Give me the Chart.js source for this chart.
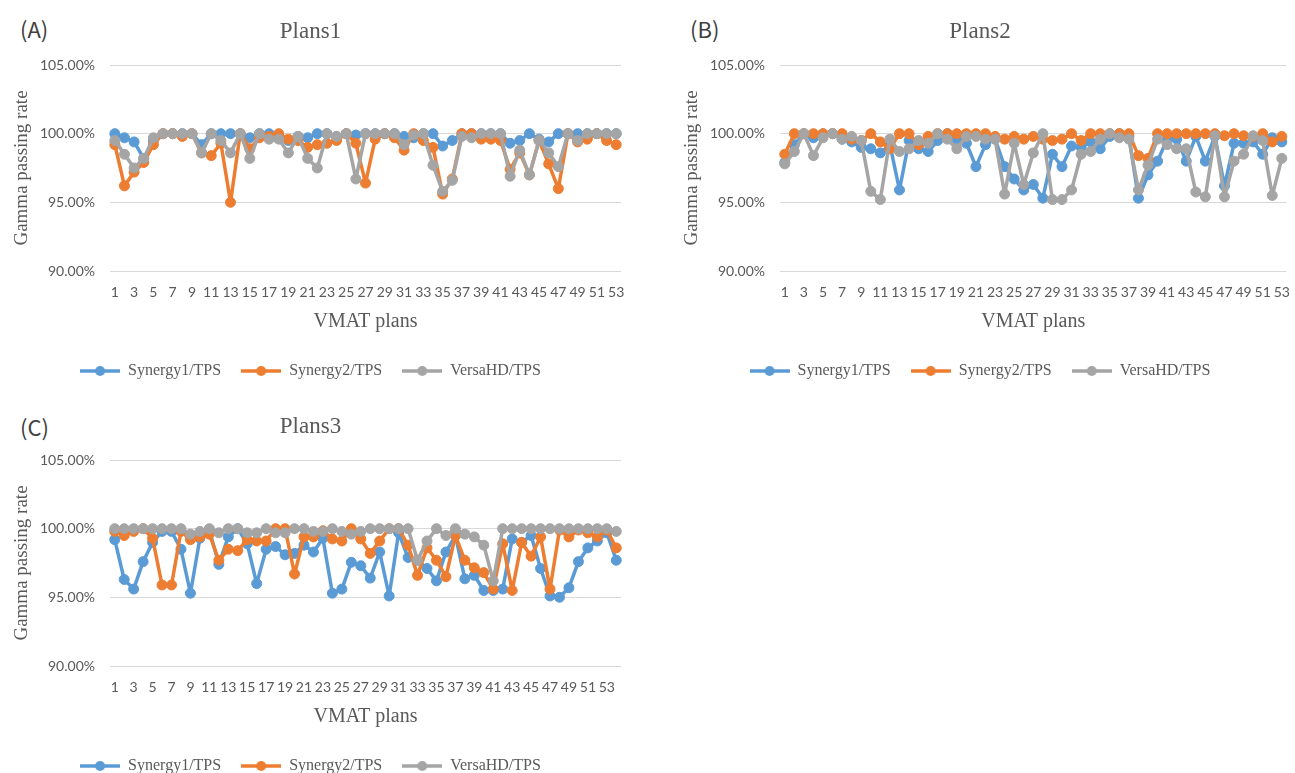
<!DOCTYPE html>
<html lang="en">
<head>
  <meta charset="UTF-8">
  <title>Gamma passing rate - VMAT plans</title>
  <script src="https://cdn.jsdelivr.net/npm/chart.js"></script>
  <style>
    html, body { margin: 0; padding: 0; background: #fff; overflow: hidden; }
    body { width: 1295px; height: 773px; position: relative; }
    canvas { position: absolute; }
    .tag {
      position: absolute;
      font-family: "Noto Sans CJK SC", "Noto Sans", sans-serif;
      font-size: 22px;
      line-height: 28px;
      color: #404040;
    }
  </style>
</head>
<body>
  <div class="tag" style="left:20px; top:14px;">(A)</div>
  <div class="tag" style="left:690px; top:14px;">(B)</div>
  <div class="tag" style="left:20px; top:412px;">(C)</div>

  <canvas id="chartA" width="640" height="390" style="left:0; top:0;"></canvas>
  <canvas id="chartB" width="625" height="390" style="left:670px; top:0;"></canvas>
  <canvas id="chartC" width="640" height="390" style="left:0; top:395px;"></canvas>

  <script>
    // series names
    const seriesNames = ['Synergy1/TPS', 'Synergy2/TPS', 'VersaHD/TPS'];

    // plans 1 (53 plans)
    const plans1Labels = Array.from({ length: 53 }, (_, i) => String(i + 1));
    const plans1Synergy1 = [100, 99.7, 99.4, 98.2, 99.5, 100, 100, 100, 100, 99.2,
      100, 100, 100, 100, 99.7, 100, 100, 99.8, 99.5, 99.8,
      99.7, 100, 100, 99.8, 100, 99.9, 100, 100, 100, 100,
      99.8, 99.7, 100, 100, 99.1, 99.5, 100, 100, 100, 100,
      100, 99.3, 99.5, 100, 99.6, 99.4, 100, 100, 100, 100,
      100, 100, 100];
    const plans1Synergy2 = [99.2, 96.2, 97.2, 97.9, 99.2, 100, 100, 99.8, 100, 98.6,
      98.4, 99.3, 95.0, 100, 98.9, 99.7, 99.8, 100, 99.6, 99.5,
      99.0, 99.2, 99.3, 99.5, 100, 99.3, 96.4, 99.6, 100, 99.7,
      98.8, 100, 99.5, 99.0, 95.6, 96.7, 100, 100, 99.6, 99.6,
      99.5, 97.4, 98.6, 97.0, 99.5, 97.8, 96.0, 100, 99.4, 99.6,
      100, 99.5, 99.2];
    const plans1VersaHD = [99.5, 98.5, 97.5, 98.2, 99.7, 100, 100, 100, 100, 98.6,
      100, 99.5, 98.6, 100, 98.2, 100, 99.6, 99.6, 98.6, 99.8,
      98.2, 97.5, 100, 99.8, 100, 96.7, 100, 100, 100, 100,
      99.2, 99.9, 100, 97.7, 95.8, 96.6, 99.8, 99.7, 100, 100,
      100, 96.9, 98.8, 97.0, 99.5, 98.6, 97.6, 100, 99.5, 100,
      100, 100, 100];

    // plans 2 (53 plans)
    const plans2Labels = Array.from({ length: 53 }, (_, i) => String(i + 1));
    const plans2Synergy1 = [97.9, 99.2, 100, 99.7, 100, 100, 99.6, 99.4, 99.0, 98.9,
      98.6, 99.2, 95.9, 99.5, 98.9, 98.7, 99.5, 100, 99.6, 99.3,
      97.6, 99.2, 99.6, 97.6, 96.7, 95.9, 96.3, 95.3, 98.5, 97.6,
      99.1, 99.0, 99.4, 98.9, 99.8, 100, 99.8, 95.3, 97.0, 98.0,
      99.6, 99.6, 98.0, 99.8, 98.0, 99.8, 96.2, 99.3, 99.3, 99.4,
      98.5, 99.7, 99.4];
    const plans2Synergy2 = [98.5, 100, 100, 100, 100, 100, 100, 99.6, 99.5, 100,
      99.4, 98.9, 100, 100, 99.2, 99.8, 100, 100, 100, 100,
      100, 100, 99.8, 99.6, 99.8, 99.6, 99.8, 99.6, 99.5, 99.6,
      100, 99.5, 100, 100, 100, 100, 100, 98.4, 98.2, 100,
      100, 100, 100, 100, 100, 100, 99.85, 100, 99.85, 99.8,
      100, 99.4, 99.8];
    const plans2VersaHD = [97.8, 98.7, 100, 98.4, 99.7, 100, 99.6, 99.8, 99.5, 95.8,
      95.2, 99.6, 98.7, 98.9, 99.5, 99.3, 100, 99.6, 98.9, 99.8,
      99.8, 99.6, 99.6, 95.6, 99.3, 96.3, 98.6, 100, 95.2, 95.2,
      95.9, 98.5, 98.7, 99.6, 100, 99.7, 99.6, 95.9, 97.7, 99.6,
      99.2, 98.9, 98.9, 95.75, 95.4, 99.85, 95.4, 98.0, 98.5, 99.85,
      99.5, 95.5, 98.2];

    // plans 3 (54 plans)
    const plans3Labels = Array.from({ length: 54 }, (_, i) => String(i + 1));
    const plans3Synergy1 = [99.2, 96.3, 95.6, 97.6, 99.0, 99.8, 99.8, 98.5, 95.3, 99.3,
      99.9, 97.4, 99.4, 100, 98.9, 96.0, 98.5, 98.7, 98.1, 98.2,
      98.8, 98.3, 99.3, 95.3, 95.6, 97.55, 97.3, 96.4, 98.3, 95.1,
      99.7, 97.9, 97.7, 97.1, 96.2, 98.3, 99.5, 96.35, 96.6, 95.5,
      95.5, 95.6, 99.25, 99.0, 99.5, 97.1, 95.1, 95.0, 95.7, 97.6,
      98.6, 99.1, 99.7, 97.7];
    const plans3Synergy2 = [99.8, 99.5, 99.8, 100, 99.3, 95.9, 95.9, 99.8, 99.2, 99.4,
      99.6, 97.7, 98.5, 98.4, 99.2, 99.1, 99.1, 100, 100, 96.7,
      99.4, 99.4, 99.85, 99.25, 99.1, 100, 99.25, 98.2, 99.1, 100,
      100, 98.8, 96.6, 98.6, 97.7, 96.5, 99.5, 97.7, 97.15, 96.8,
      95.6, 98.9, 95.5, 99.0, 98.0, 99.4, 95.6, 99.9, 99.4, 99.9,
      99.7, 99.4, 99.9, 98.6];
    const plans3VersaHD = [100, 100, 100, 100, 100, 100, 100, 100, 99.6, 99.8,
      100, 99.7, 100, 100, 99.7, 99.7, 100, 99.7, 99.7, 100,
      100, 99.8, 99.8, 100, 99.8, 99.6, 99.8, 100, 100, 100,
      100, 100, 97.7, 99.1, 100, 99.5, 100, 99.6, 99.4, 98.8,
      96.2, 100, 100, 100, 100, 100, 100, 100, 100, 100,
      100, 100, 100, 99.8];

    const yTicks = [90, 95, 100, 105];

    const colors = ['#5b9bd5', '#ed7d31', '#a5a5a5'];
    const textColor = '#595959';
    const serif = 'Liberation Serif';

    Chart.defaults.font.family = 'Lato';

    // legend marker: line with a dot in the middle, like Excel
    function legendIcon(color) {
      const c = document.createElement('canvas');
      c.width = 40;
      c.height = 12;
      const ctx = c.getContext('2d');
      ctx.strokeStyle = color;
      ctx.lineWidth = 3.5;
      ctx.beginPath();
      ctx.moveTo(0, 6);
      ctx.lineTo(40, 6);
      ctx.stroke();
      ctx.fillStyle = color;
      ctx.beginPath();
      ctx.arc(20, 6, 5, 0, Math.PI * 2);
      ctx.fill();
      return c;
    }
    const legendIcons = colors.map(legendIcon);

    function makeChart(id, title, labels, values, padRight) {
      const datasets = values.map((data, i) => ({
        label: seriesNames[i],
        data: data,
        borderColor: colors[i],
        backgroundColor: colors[i],
        pointBackgroundColor: colors[i],
        pointBorderColor: colors[i],
        borderWidth: 3.5,
        borderJoinStyle: 'round',
        borderCapStyle: 'round',
        pointRadius: 5,
        pointBorderWidth: 1,
        tension: 0,
        order: 3 - i
      }));

      return new Chart(document.getElementById(id), {
        type: 'line',
        data: { labels: labels, datasets: datasets },
        options: {
          responsive: false,
          animation: false,
          layout: { padding: { left: 0, right: padRight, top: 0, bottom: 1 } },
          plugins: {
            tooltip: { enabled: false },
            title: {
              display: true,
              text: title,
              color: textColor,
              font: { family: serif, size: 23, weight: 'normal' },
              padding: { top: 18, bottom: 19.4 }
            },
            legend: {
              position: 'bottom',
              labels: {
                usePointStyle: true,
                pointStyleWidth: 40,
                padding: 20,
                color: textColor,
                font: { family: serif, size: 16 },
                generateLabels: chart => chart.data.datasets.map((ds, i) => ({
                  text: ds.label,
                  pointStyle: legendIcons[i],
                  fillStyle: colors[i],
                  strokeStyle: colors[i],
                  lineWidth: 0,
                  fontColor: textColor,
                  hidden: false,
                  datasetIndex: i
                }))
              }
            }
          },
          scales: {
            x: {
              type: 'category',
              offset: true,
              grid: { display: false },
              border: { display: false },
              ticks: {
                autoSkip: false,
                maxRotation: 0,
                minRotation: 0,
                padding: 5,
                color: textColor,
                font: { size: 14 },
                callback: function (v, i) { return i % 2 === 0 ? this.getLabelForValue(v) : ''; }
              },
              title: {
                display: true,
                text: 'VMAT plans',
                color: textColor,
                font: { family: serif, size: 20 },
                padding: { top: 0, bottom: 9 }
              },
              afterFit: s => { s.height = 72; }
            },
            y: {
              min: yTicks[0],
              max: yTicks[yTicks.length - 1],
              grid: { color: '#d9d9d9', lineWidth: 1, drawTicks: false },
              border: { display: false },
              ticks: {
                stepSize: 5,
                padding: 15,
                color: textColor,
                font: { size: 14 },
                callback: v => v.toFixed(2) + '%'
              },
              afterBuildTicks: s => { s.ticks = yTicks.map(v => ({ value: v })); },
              title: {
                display: true,
                text: 'Gamma passing rate',
                color: textColor,
                font: { family: serif, size: 19 },
                padding: { top: 11, bottom: 0 }
              },
              afterFit: s => { s.width = 110; }
            }
          }
        }
      });
    }

    makeChart('chartA', 'Plans1', plans1Labels, [plans1Synergy1, plans1Synergy2, plans1VersaHD], 19);
    makeChart('chartB', 'Plans2', plans2Labels, [plans2Synergy1, plans2Synergy2, plans2VersaHD], 5);
    makeChart('chartC', 'Plans3', plans3Labels, [plans3Synergy1, plans3Synergy2, plans3VersaHD], 19);
  </script>
</body>
</html>
